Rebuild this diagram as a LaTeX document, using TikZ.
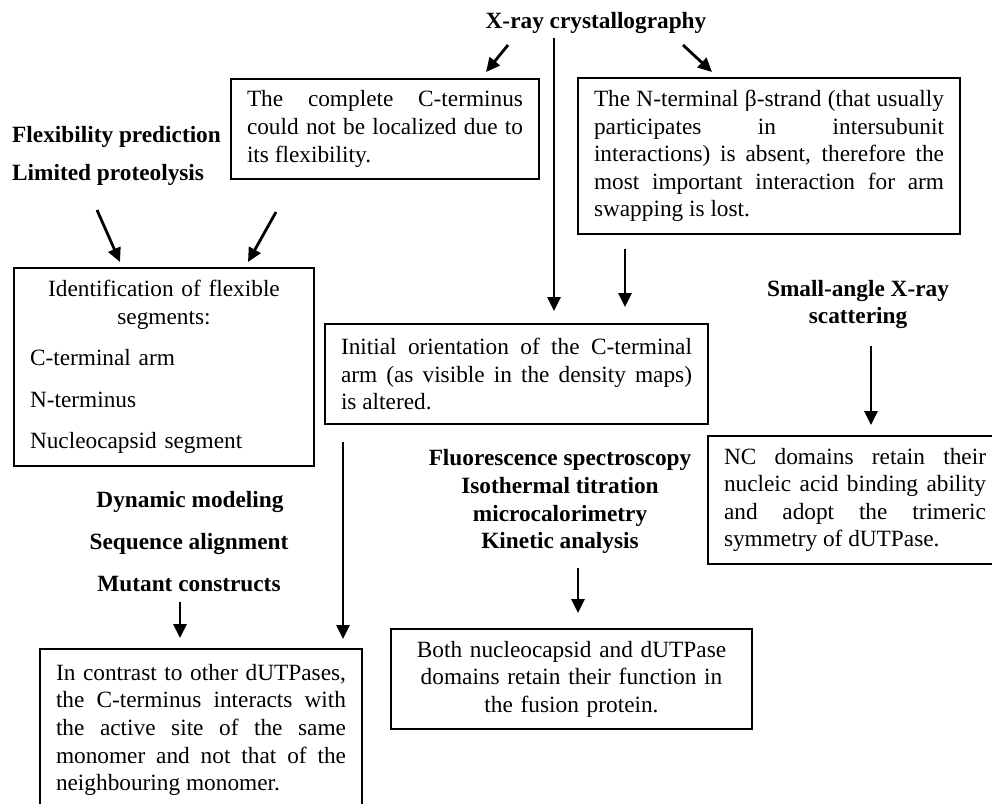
\documentclass[tikz,border=0pt]{standalone}
\usepackage{fontspec}
\setmainfont{Liberation Serif}
\usetikzlibrary{arrows.meta}
\setlength{\parindent}{0pt}

\tikzset{
  box/.style={draw, line width=2pt, anchor=north west, inner xsep=16pt, inner ysep=0pt, align=justify},
  method/.style={font=\fontsize{23.3}{27.6}\selectfont\bfseries, inner sep=0pt},
  arr/.style={line width=2.8pt, -{Triangle[length=14pt,width=13pt]}}
}

\begin{document}
\begin{tikzpicture}[x=1pt, y=-1pt, every node/.style={font=\fontsize{23.3}{27.6}\selectfont}]
        \useasboundingbox (0,0) rectangle (992,803);
        \clip (0,0) rectangle (992,803);

        % methods
        \node[method, anchor=base] (xray) at (596,28) {X-ray crystallography};
        \node[method, anchor=base west] (flex) at (12,142) {Flexibility prediction};
        \node[method, anchor=base west] (limprot) at (12,180) {Limited proteolysis};
        \node[method, anchor=base] (saxs1) at (858,296) {Small-angle X-ray};
        \node[method, anchor=base] (saxs2) at (858,323) {scattering};
        \node[method, anchor=base] (fluor1) at (560,465) {Fluorescence spectroscopy};
        \node[method, anchor=base] (fluor2) at (560,493) {Isothermal titration};
        \node[method, anchor=base] (fluor3) at (560,521) {microcalorimetry};
        \node[method, anchor=base] (fluor4) at (560,548) {Kinetic analysis};
        \node[method, anchor=base] (dyn) at (190,507) {Dynamic modeling};
        \node[method, anchor=base] (seq) at (189,549) {Sequence alignment};
        \node[method, anchor=base] (mut) at (189,591) {Mutant constructs};

        % findings
        \node[box, text width=276pt, minimum height=100pt] (comp) at (230,78)
            {The complete C-terminus\linebreak could not be localized due to\linebreak its flexibility.};
        \node[box, text width=350pt, minimum height=156pt] (nterm) at (577,77)
            {The N-terminal β-strand (that usually\linebreak participates in intersubunit\linebreak interactions) is absent, therefore the\linebreak most important interaction for arm\linebreak swapping is lost.};
        \node[box, text width=268pt, minimum height=198pt, align=left] (ident) at (13,267)
            {\centering Identification of flexible\\segments:\par\vspace{14pt}\raggedright C-terminal arm\par\vspace{14pt}N-terminus\par\vspace{14pt}Nucleocapsid segment};
        \node[box, text width=351pt, minimum height=100pt] (init) at (324,323)
            {Initial orientation of the C-terminal\linebreak arm (as visible in the density maps)\linebreak is altered.};
        \node[box, text width=262pt, minimum height=128pt] (nc) at (707,435)
            {NC domains retain their\linebreak nucleic acid binding ability\linebreak and adopt the trimeric\linebreak symmetry of dUTPase.};
        \node[box, text width=329pt, minimum height=100pt, align=center] (both) at (390,628)
            {Both nucleocapsid and dUTPase\\domains retain their function in\\the fusion protein.};
        \node[box, text width=290pt, minimum height=162pt] (contrast) at (39,648)
            {In contrast to other dUTPases,\linebreak the C-terminus interacts with\linebreak the active site of the same\linebreak monomer and not that of the\linebreak neighbouring monomer.};

        % arrows
        \draw[arr] ([shift={(-88pt,-17pt)}]xray.base) -- ([shift={(256pt,6pt)}]comp.north west);
        \draw[arr] ([shift={(87pt,-17pt)}]xray.base) -- ([shift={(135pt,5pt)}]nterm.north west);
        \draw[arr] ([shift={(-42pt,-10pt)}]xray.base) -- ([shift={(230pt,12pt)}]init.north west);
        \draw[arr] ([shift={(48pt,-14pt)}]nterm.south west) -- ([shift={(301pt,16pt)}]init.north west);
        \draw[arr] ([shift={(85pt,-30pt)}]limprot.base west) -- ([shift={(107pt,5pt)}]ident.north west);
        \draw[arr] ([shift={(46pt,-32pt)}]comp.south west) -- ([shift={(235pt,5pt)}]ident.north west);
        \draw[arr] ([shift={(13pt,-23pt)}]saxs2.base) -- ([shift={(164pt,10pt)}]nc.north west);
        \draw[arr] ([shift={(19pt,-17pt)}]init.south west) -- ([shift={(304pt,9pt)}]contrast.north west);
        \draw[arr] ([shift={(-9pt,-11pt)}]mut.base) -- ([shift={(141pt,10pt)}]contrast.north west);
        \draw[arr] ([shift={(18pt,-20pt)}]fluor4.base) -- ([shift={(188pt,15pt)}]both.north west);
    \end{tikzpicture}
\end{document}
